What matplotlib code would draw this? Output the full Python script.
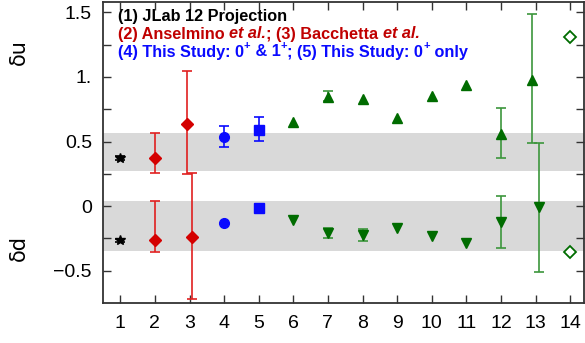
import numpy as np
import matplotlib
matplotlib.use("Agg")
import matplotlib.pyplot as plt

plt.rcParams['font.family'] = ['Liberation Sans', 'DejaVu Sans']

# ---------------- data ----------------
points = [1, 2, 3, 4, 5, 6, 7, 8, 9, 10, 11, 12, 13, 14]
du = [0.37, 0.375, 0.635, 0.535, 0.59, 0.65, 0.845, 0.83, 0.68, 0.85, 0.935, 0.56, 0.975, 1.31]
du_lo = [0.355, 0.26, 0.246, 0.457, 0.506, np.nan, 0.81, np.nan, np.nan, np.nan, np.nan, 0.374, 0.49, np.nan]
du_hi = [0.39, 0.565, 1.045, 0.62, 0.69, np.nan, 0.894, np.nan, np.nan, np.nan, np.nan, 0.757, 1.49, np.nan]
dd = [-0.265, -0.26, -0.24, -0.128, -0.018, -0.11, -0.21, -0.225, -0.168, -0.23, -0.283, -0.12, -0.01, -0.354]
dd_lo = [-0.275, -0.357, -0.72, np.nan, np.nan, np.nan, -0.25, -0.271, np.nan, np.nan, np.nan, -0.323, -0.509, np.nan]
dd_hi = [-0.255, 0.04, 0.258, np.nan, np.nan, np.nan, -0.173, -0.176, np.nan, np.nan, np.nan, 0.08, 0.49, np.nan]
band_u = (0.27, 0.565)
band_d = (-0.35, 0.04)
yticks = [-0.5, -0.25, 0, 0.25, 0.5, 0.75, 1.0, 1.25, 1.5]
ylabels = {-0.5: "\u22120.5", 0: "0", 0.5: "0.5", 1.0: "1.", 1.5: "1.5"}

# ---------------- style ----------------
xoff_u = {3: -0.08, 13: -0.1}
xoff_d = {3: 0.08, 13: 0.1}
BLACK = "#000000"
RED_M, RED_E = "#d40000", "#e02020"
BLUE = "#0a0aff"
GREEN_M, GREEN_E = "#006c00", "#3c963c"


def style(p):
    if p == 1:
        return dict(marker="*", ms=7.5, mfc=BLACK, mec=BLACK, ecolor=BLACK)
    if p in (2, 3):
        return dict(marker="D", ms=5.8, mfc=RED_M, mec=RED_M, ecolor=RED_E)
    if p == 4:
        return dict(marker="o", ms=7, mfc=BLUE, mec=BLUE, ecolor=BLUE)
    if p == 5:
        return dict(marker="s", ms=6.5, mfc=BLUE, mec=BLUE, ecolor=BLUE)
    if p == 14:
        return dict(marker="D", ms=5.8, mfc="white", mec=GREEN_M, ecolor=GREEN_E, mew=1.3)
    return dict(ms=6.8, mfc=GREEN_M, mec=GREEN_M, ecolor=GREEN_E)


fig = plt.figure(figsize=(5.85, 3.43), dpi=100)
ax = fig.add_axes([103 / 585, 40 / 343, 481 / 585, 301 / 343])
ax.set_xlim(0.5, 14.4)
ax.set_ylim(-0.75, 1.58)

ax.axhspan(*band_u, color="#d9d9d9", lw=0, zorder=0)
ax.axhspan(*band_d, color="#d9d9d9", lw=0, zorder=0)

for i, p in enumerate(points):
    st = style(p)
    for vals, lo, hi, off, upper in ((du, du_lo, du_hi, xoff_u, True), (dd, dd_lo, dd_hi, xoff_d, False)):
        s = dict(st)
        if "marker" not in s:
            s["marker"] = "^" if upper else "v"
        x = p + off.get(p, 0)
        y = vals[i]
        ecol = s.pop("ecolor")
        mew = s.pop("mew", 1.0)
        if not np.isnan(lo[i]):
            ax.errorbar([x], [y], yerr=[[y - lo[i]], [hi[i] - y]], fmt="none",
                        ecolor=ecol, elinewidth=1.2, capsize=3.5, capthick=1.2, zorder=2)
        ax.plot([x], [y], ls="none", mew=mew, zorder=3, **s)

# axes / ticks
ax.set_xticks(points)
ax.set_yticks(yticks)
ax.set_yticklabels([ylabels.get(t, "") for t in yticks])
ax.tick_params(direction="in", length=6, width=1, color="#333333",
               top=True, right=True, labelsize=14)
ax.tick_params(axis="y", pad=8)
ax.tick_params(axis="x", pad=9)
for sp in ax.spines.values():
    sp.set_color("#333333")
    sp.set_linewidth(1.3)

fig.text(19 / 585, 1 - 52 / 343, "\u03b4u", rotation=90, fontsize=15,
         ha="center", va="center", family=["DejaVu Sans"])
fig.text(19 / 585, 1 - 248 / 343, "\u03b4d", rotation=90, fontsize=15,
         ha="center", va="center", family=["DejaVu Sans"])

# legend text built from segments
fig.canvas.draw()
renderer = fig.canvas.get_renderer()


def draw_line(x0, y0, segs):
    x = x0
    for txt, col, italic, sup in segs:
        fs = 8 if sup else 11.7
        yy = y0 - (6 if sup else 0)
        t = fig.text(x / 585, 1 - yy / 343, txt, color=col, fontsize=fs, fontweight="bold",
                     fontstyle="italic" if italic else "normal", ha="left", va="center")
        bb = t.get_window_extent(renderer=renderer)
        x += bb.width


DRED = "#c00000"
draw_line(118, 16, [("(1) JLab 12 Projection", BLACK, False, False)])
draw_line(118, 34, [("(2) Anselmino ", DRED, False, False), ("et al.", DRED, True, False),
                    ("; (3) Bacchetta ", DRED, False, False), ("et al.", DRED, True, False)])
draw_line(118, 52, [("(4) This Study: 0", BLUE, False, False), ("+", BLUE, False, True),
                    (" & 1", BLUE, False, False), ("+", BLUE, False, True),
                    ("; (5) This Study: 0", BLUE, False, False), ("+", BLUE, False, True),
                    (" only", BLUE, False, False)])

fig.savefig("out.png", dpi=100)
